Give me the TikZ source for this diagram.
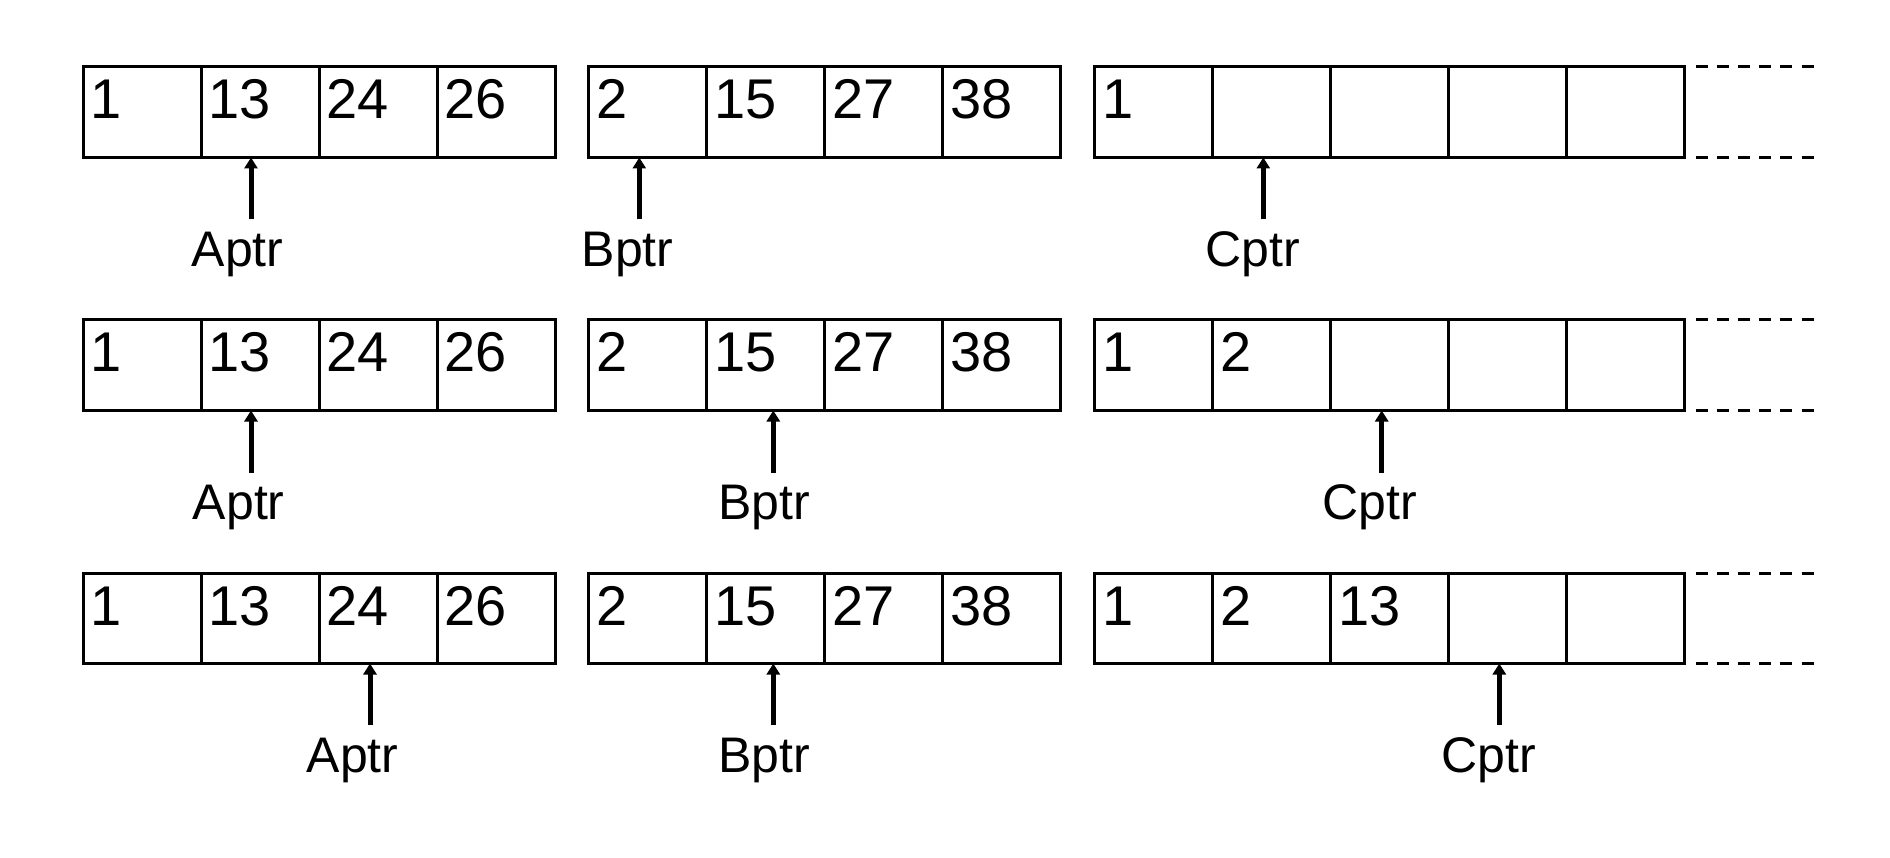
\documentclass[tikz,border=0pt]{standalone}
\usepackage{fontspec}
\setmainfont{Liberation Sans}
\usetikzlibrary{arrows.meta}
\begin{document}
\begin{tikzpicture}[x=1pt,y=-1pt,
  cellbox/.style={draw,line width=3pt,minimum width=118pt,minimum height=90.5pt,inner sep=0pt,outer sep=0pt,anchor=north west},
  val/.style={anchor=base west,inner sep=0pt,font=\fontsize{56}{60}\selectfont},
  ptrlabel/.style={anchor=base,inner sep=0pt,font=\fontsize{50}{56}\selectfont},
  ptrarrow/.style={line width=5pt,-{Triangle[length=11pt,width=13pt]}},
  extdash/.style={line width=3pt,dash pattern=on 12pt off 9.2pt}]
\fill[white] (0,0) rectangle (1890,858);
\useasboundingbox (0,0) rectangle (1890,858);
% arrays
\foreach \r/\tp in {1/67,2/320,3/573} {
  \foreach \i in {1,...,4} {
    \node[cellbox] (a\r\i) at ({83+(\i-1)*118},\tp) {};
    \node[cellbox] (b\r\i) at ({588.5+(\i-1)*118},\tp) {};
  }
  \foreach \i in {1,...,5} {
    \node[cellbox] (c\r\i) at ({1094.5+(\i-1)*118},\tp) {};
  }
  \draw[extdash] ([xshift=11pt]c\r5.north east) -- ++(118,0);
  \draw[extdash] ([xshift=11pt]c\r5.south east) -- ++(118,0);
  \foreach \i/\v in {1/1,2/13,3/24,4/26} {
    \node[val] (va\r\i) at ([xshift=7.5pt,yshift=-52pt]a\r\i.north west) {\v};
  }
  \foreach \i/\v in {1/2,2/15,3/27,4/38} {
    \node[val] (vb\r\i) at ([xshift=7.5pt,yshift=-52pt]b\r\i.north west) {\v};
  }
}
% C contents
\node[val] (vc11) at ([xshift=7.5pt,yshift=-52pt]c11.north west) {1};
\node[val] (vc21) at ([xshift=7.5pt,yshift=-52pt]c21.north west) {1};
\node[val] (vc22) at ([xshift=7.5pt,yshift=-52pt]c22.north west) {2};
\node[val] (vc31) at ([xshift=7.5pt,yshift=-52pt]c31.north west) {1};
\node[val] (vc32) at ([xshift=7.5pt,yshift=-52pt]c32.north west) {2};
\node[val] (vc33) at ([xshift=7.5pt,yshift=-52pt]c33.north west) {13};
% pointers row 1
\coordinate (pa1) at (251,219.5);
\coordinate (pb1) at (639.3,219.5);
\coordinate (pc1) at (1263.3,219.5);
\draw[ptrarrow] (pa1) -- (pa1 |- a12.south);
\draw[ptrarrow] (pb1) -- (pb1 |- b11.south);
\draw[ptrarrow] (pc1) -- (pc1 |- c12.south);
\node[ptrlabel] (la1) at (237.5,267) {Aptr};
\node[ptrlabel] (lb1) at (627.5,267) {Bptr};
\node[ptrlabel] (lc1) at (1253,267) {Cptr};
% pointers row 2
\coordinate (pa2) at (251,472.5);
\coordinate (pb2) at (773.3,472.5);
\coordinate (pc2) at (1381.7,472.5);
\draw[ptrarrow] (pa2) -- (pa2 |- a22.south);
\draw[ptrarrow] (pb2) -- (pb2 |- b22.south);
\draw[ptrarrow] (pc2) -- (pc2 |- c23.south);
\node[ptrlabel] (la2) at (238.7,519.5) {Aptr};
\node[ptrlabel] (lb2) at (764,519.5) {Bptr};
\node[ptrlabel] (lc2) at (1370,519.5) {Cptr};
% pointers row 3
\coordinate (pa3) at (370,725);
\coordinate (pb3) at (773.3,725);
\coordinate (pc3) at (1499.3,725);
\draw[ptrarrow] (pa3) -- (pa3 |- a33.south);
\draw[ptrarrow] (pb3) -- (pb3 |- b32.south);
\draw[ptrarrow] (pc3) -- (pc3 |- c34.south);
\node[ptrlabel] (la3) at (352.5,772) {Aptr};
\node[ptrlabel] (lb3) at (764.2,772) {Bptr};
\node[ptrlabel] (lc3) at (1489,772) {Cptr};
\end{tikzpicture}
\end{document}
